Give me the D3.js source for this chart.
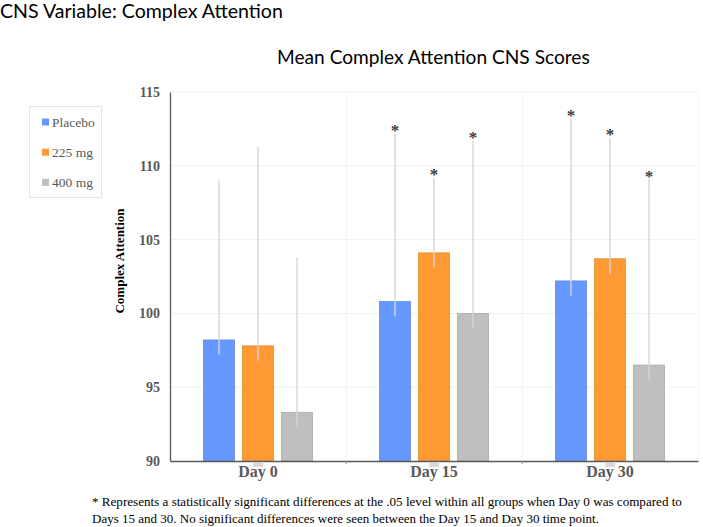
<!DOCTYPE html>
<html>
<head>
<meta charset="utf-8">
<script src="https://cdn.jsdelivr.net/npm/d3@7"></script>
<style>
  html, body { margin: 0; padding: 0; background: #fff; }
  svg { display: block; }
</style>
</head>
<body>
<svg id="chart" width="703" height="527"></svg>
<script>
// ---- data ----
const categories = ["Day 0", "Day 15", "Day 30"];
const seriesNames = ["Placebo", "225 mg", "400 mg"];
const placeboMean = [98.2, 100.8, 102.2];
const mg225Mean   = [97.8, 104.1, 103.7];
const mg400Mean   = [93.3, 100.0, 96.5];
const placeboLow  = [97.2, 99.8, 101.2];
const mg225Low    = [96.8, 103.1, 102.7];
const mg400Low    = [92.3, 99.0, 95.5];
const placeboHigh = [109.0, 112.2, 113.2];
const mg225High   = [111.3, 109.2, 111.9];
const mg400High   = [103.8, 111.7, 109.1];
const significant = [false, true, true];
const yTicks = [90, 95, 100, 105, 110, 115];
const titleText = "CNS Variable: Complex Attention";
const chartTitle = "Mean Complex Attention CNS Scores";
const yAxisTitle = "Complex Attention";
const footnoteLines = [
  "* Represents a statistically significant differences at the .05 level within all groups when Day 0 was compared to",
  "Days 15 and 30. No significant differences were seen between the Day 15 and Day 30 time point."
];

(function () {
const colors = ["#6699FF", "#FF9933", "#BFBFBF"];
const strokes = ["#5B8BE8", "#E88A2E", "#ABABAB"];
const means = [placeboMean, mg225Mean, mg400Mean];
const lows = [placeboLow, mg225Low, mg400Low];
const highs = [placeboHigh, mg225High, mg400High];

const rows = [];
categories.forEach((c, ci) => {
  seriesNames.forEach((s, si) => {
    rows.push({cat: c, ci, series: s, si, mean: means[si][ci], low: lows[si][ci], high: highs[si][ci], sig: significant[ci]});
  });
});

// ---- layout ----
const svg = d3.select("#chart");
const pLeft = 170, pRight = 698, pTop = 92, pBottom = 461;

const x0 = d3.scaleBand().domain(categories).range([pLeft, pRight]).padding(0);
const x1 = d3.scaleBand().domain(seriesNames).range([0, x0.bandwidth()])
  .paddingInner(0.205).paddingOuter(0.859);
const y = d3.scaleLinear().domain([90, 115]).range([pBottom, pTop]);

const serif = "'Liberation Serif', 'Times New Roman', serif";
const sans = "Lato, 'Open Sans', sans-serif";

function fitWidth(sel, w) {
  const node = sel.node();
  const fs = parseFloat(sel.attr("font-size"));
  const cur = node.getComputedTextLength();
  if (cur > 0) sel.attr("font-size", (fs * w / cur).toFixed(2));
}

// titles
const t1 = svg.append("text").attr("x", 0).attr("y", 18)
  .attr("font-family", sans).attr("font-size", 19).attr("fill", "#000").text(titleText);
fitWidth(t1, 283);
const t2 = svg.append("text").attr("x", 277).attr("y", 64)
  .attr("font-family", sans).attr("font-size", 20).attr("fill", "#000").text(chartTitle);
fitWidth(t2, 313);

// horizontal gridlines
svg.append("g").selectAll("line").data(yTicks.filter(d => d !== 90)).join("line")
  .attr("x1", pLeft).attr("x2", pRight)
  .attr("y1", d => y(d)).attr("y2", d => y(d))
  .attr("stroke", "#EFEFEF").attr("stroke-width", 1);

// vertical gridlines at category boundaries
const bounds = categories.map(c => x0(c) + x0.bandwidth());
svg.append("g").selectAll("line").data(bounds).join("line")
  .attr("x1", d => d).attr("x2", d => d)
  .attr("y1", pTop).attr("y2", pBottom)
  .attr("stroke", "#F2F2F2").attr("stroke-width", 1);

// bars
svg.append("g").selectAll("rect").data(rows).join("rect")
  .attr("x", d => x0(d.cat) + x1(d.series))
  .attr("y", d => y(d.mean))
  .attr("width", x1.bandwidth())
  .attr("height", d => y(90) - y(d.mean))
  .attr("fill", d => colors[d.si])
  .attr("stroke", d => strokes[d.si]).attr("stroke-width", 0.8);

// error bars
svg.append("g").selectAll("line").data(rows).join("line")
  .attr("x1", d => x0(d.cat) + x1(d.series) + x1.bandwidth() / 2)
  .attr("x2", d => x0(d.cat) + x1(d.series) + x1.bandwidth() / 2)
  .attr("y1", d => y(d.low)).attr("y2", d => y(d.high))
  .attr("stroke", "#D6D6D6").attr("stroke-width", 1.4);

// significance stars
svg.append("g").selectAll("text").data(rows.filter(d => d.sig)).join("text")
  .attr("x", d => x0(d.cat) + x1(d.series) + x1.bandwidth() / 2)
  .attr("y", d => y(d.high) + 2.5)
  .attr("text-anchor", "middle")
  .attr("font-family", serif).attr("font-size", 17).attr("font-weight", "bold")
  .attr("fill", "#404040").text("*");

// y axis
const yAxis = d3.axisLeft(y).tickValues(yTicks).tickSize(0).tickPadding(10);
const gy = svg.append("g").attr("transform", `translate(${pLeft},0)`).call(yAxis);
gy.select(".domain").attr("stroke", "#595959").attr("stroke-width", 1.3);
gy.selectAll("text").attr("font-family", serif).attr("font-size", 14)
  .attr("font-weight", "bold").attr("fill", "#595959");

// x axis
const xAxis = d3.axisBottom(x0).tickSize(0).tickPadding(5);
const gx = svg.append("g").attr("transform", `translate(0,${pBottom})`).call(xAxis);
gx.select(".domain").attr("stroke", "#595959").attr("stroke-width", 1.3);
gx.selectAll("text").attr("font-family", serif).attr("font-size", 16)
  .attr("font-weight", "bold").attr("fill", "#595959");
svg.append("g").selectAll("line").data(bounds.slice(0, 2)).join("line")
  .attr("x1", d => d).attr("x2", d => d).attr("y1", pBottom).attr("y2", pBottom + 3)
  .attr("stroke", "#8C8C8C").attr("stroke-width", 1);
svg.append("g").selectAll("rect").data(categories).join("rect")
  .attr("x", d => x0(d) + x0.bandwidth() / 2 - 5)
  .attr("y", pBottom + 2).attr("width", 10).attr("height", 4)
  .attr("fill", "#D9D9D9");

// y axis title
svg.append("text")
  .attr("transform", `translate(124,261) rotate(-90)`)
  .attr("text-anchor", "middle")
  .attr("font-family", serif).attr("font-size", 13).attr("font-weight", "bold")
  .attr("fill", "#000").text(yAxisTitle);

// legend
const lg = svg.append("g");
lg.append("rect").attr("x", 29.5).attr("y", 106.5).attr("width", 72).attr("height", 91)
  .attr("fill", "#fff").attr("stroke", "#E3E3E3").attr("stroke-width", 1);
const items = lg.selectAll("g").data(seriesNames).join("g")
  .attr("transform", (d, i) => `translate(42, ${122 + i * 30.2})`);
items.append("rect").attr("x", 0).attr("y", -3.5).attr("width", 7).attr("height", 7)
  .attr("fill", (d, i) => colors[i]);
items.append("text").attr("x", 10).attr("y", 4.5)
  .attr("font-family", serif).attr("font-size", 13.5).attr("fill", "#595959").text(d => d);

// footnote
const fn = svg.append("g");
footnoteLines.forEach((line, i) => {
  const t = fn.append("text").attr("x", 92).attr("y", 506 + i * 16.5)
    .attr("font-family", serif).attr("font-size", 13).attr("fill", "#000").text(line);
  if (i === 0) fitWidth(t, 590);
});
})();
</script>
</body>
</html>
